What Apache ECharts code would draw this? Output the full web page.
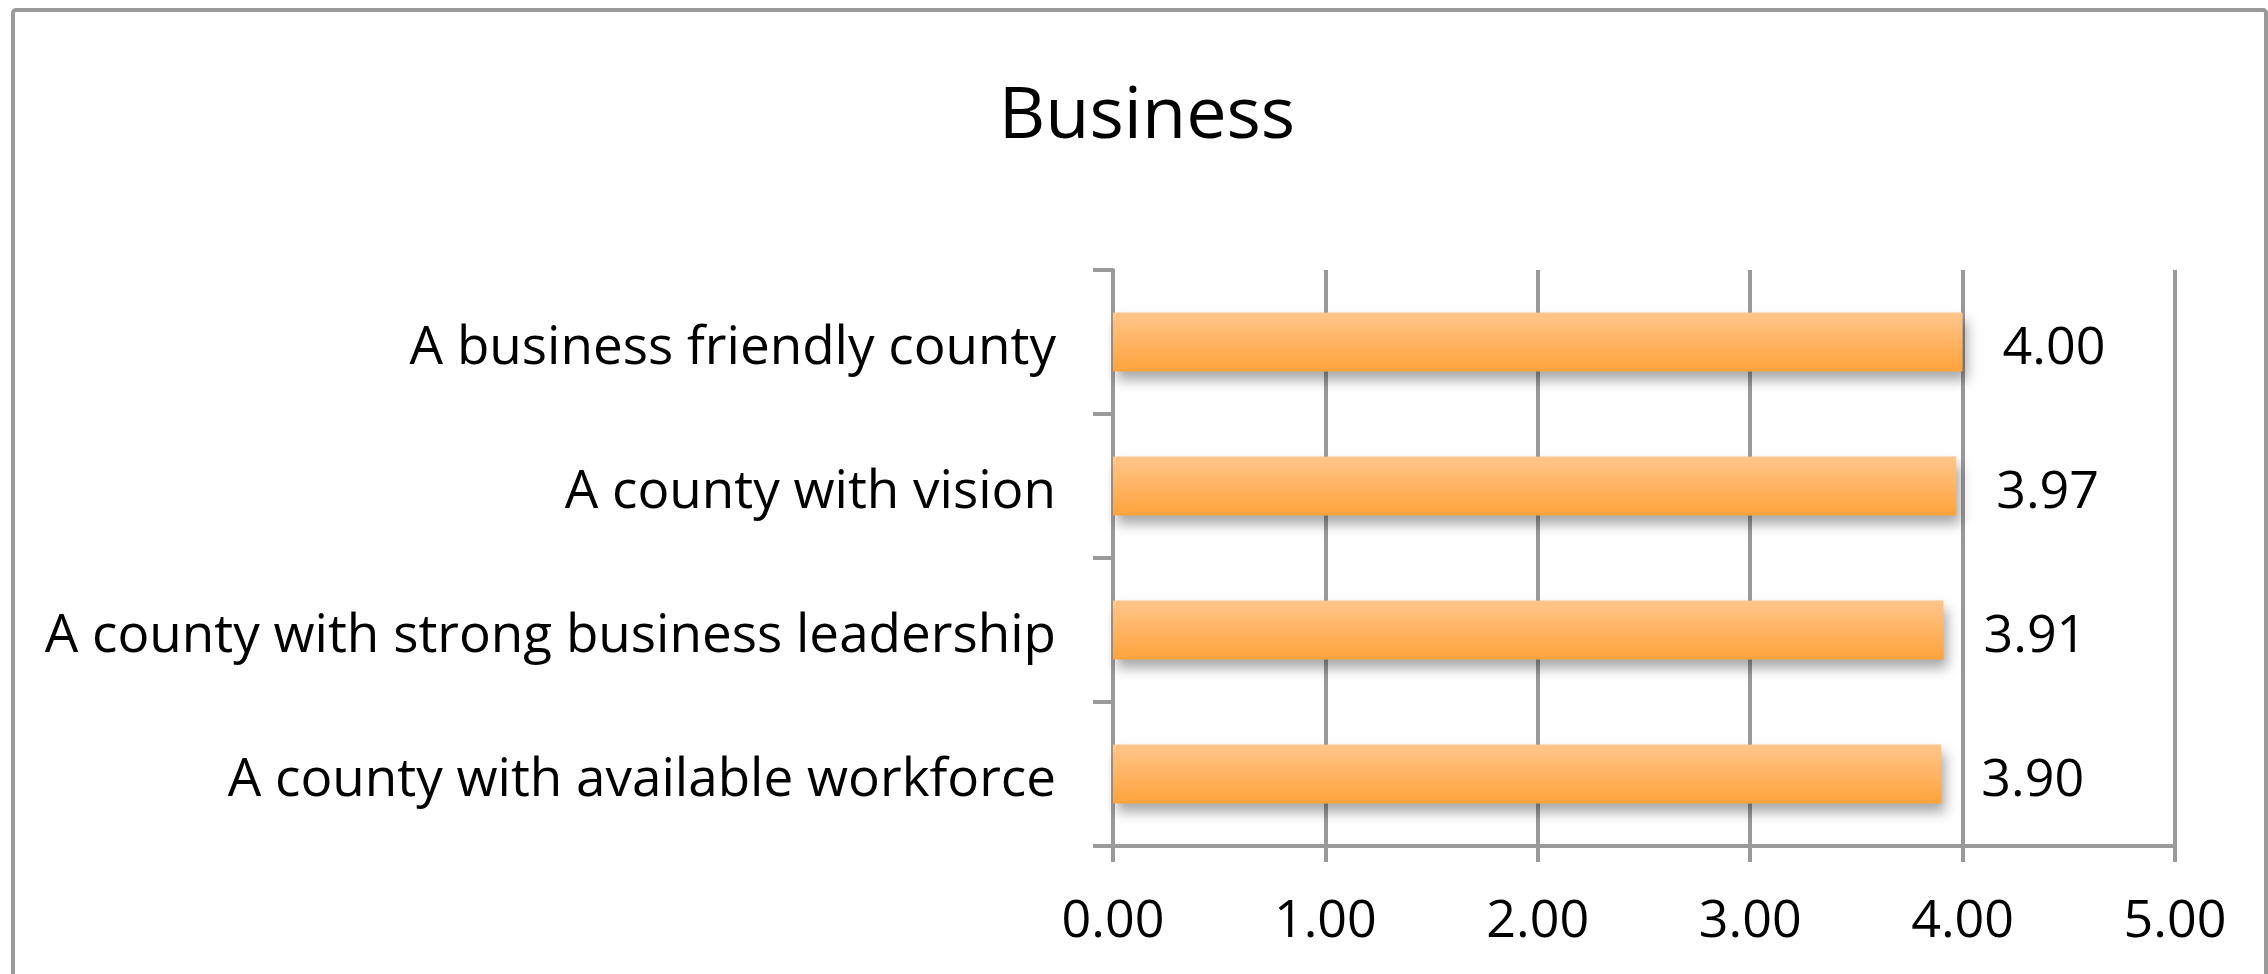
<!DOCTYPE html>
<html>
<head>
<meta charset="utf-8">
<script src="https://cdn.jsdelivr.net/npm/echarts@6/dist/echarts.min.js"></script>
<style>
html,body{margin:0;padding:0;background:#fff;}
#chart{width:2268px;height:974px;}
</style>
</head>
<body>
<div id="chart"></div>
<script>
const titleText = 'Business';
const categories = [
  'A business friendly county',
  'A county with vision',
  'A county with strong business leadership',
  'A county with available workforce'
];
const values = [4.00, 3.97, 3.91, 3.90];
const xTicks = [0, 1, 2, 3, 4, 5];

const FONT = 'Open Sans';
const chart = echarts.init(document.getElementById('chart'));
chart.setOption({
  backgroundColor: '#ffffff',
  animation: false,
  graphic: [{
    type: 'rect',
    shape: { x: 13, y: 10, width: 2253, height: 1000, r: 3 },
    style: { fill: 'none', stroke: '#9a9a9a', lineWidth: 4 },
    silent: true, z: -1
  }],
  title: {
    text: titleText,
    left: 1142,
    textAlign: 'center',
    top: 76,
    textStyle: { fontFamily: FONT, fontSize: 72, fontWeight: 'normal', color: '#000' }
  },
  grid: { left: 1113, right: 93, top: 270, bottom: 128, containLabel: false },
  xAxis: {
    type: 'value',
    min: 0, max: 5, interval: 1,
    axisLine: { show: true, lineStyle: { color: '#9a9a9a', width: 4 } },
    axisTick: { show: true, length: 16, lineStyle: { color: '#9a9a9a', width: 4 } },
    splitLine: { show: true, lineStyle: { color: '#9a9a9a', width: 4 } },
    axisLabel: {
      fontFamily: FONT, fontSize: 52, color: '#000', margin: 50,
      formatter: v => xTicks.includes(v) ? v.toFixed(2) : ''
    }
  },
  yAxis: {
    type: 'category',
    data: categories,
    inverse: true,
    axisLine: { show: true, lineStyle: { color: '#9a9a9a', width: 4 } },
    axisTick: { show: true, length: 20, alignWithLabel: false, lineStyle: { color: '#9a9a9a', width: 4 } },
    splitLine: { show: false },
    axisLabel: {
      fontFamily: FONT, fontSize: 53, color: '#000', margin: 57,
      formatter: v => '{t|' + v + '}',
      rich: { t: { fontFamily: FONT, fontSize: 53, color: '#000', padding: [14, 0, 0, 0] } }
    }
  },
  series: [{
    type: 'bar',
    data: values,
    barWidth: 59,
    itemStyle: {
      color: new echarts.graphic.LinearGradient(0, 0, 0, 1, [
        { offset: 0, color: '#ffc68c' },
        { offset: 1, color: '#ffa23a' }
      ]),
      shadowColor: 'rgba(0,0,0,0.35)',
      shadowBlur: 12,
      shadowOffsetX: 4,
      shadowOffsetY: 8
    },
    label: {
      show: true,
      position: 'right',
      distance: 40,
      fontFamily: FONT, fontSize: 52, color: '#000',
      offset: [0, 7],
      formatter: p => p.value.toFixed(2)
    }
  }]
});
</script>
</body>
</html>
